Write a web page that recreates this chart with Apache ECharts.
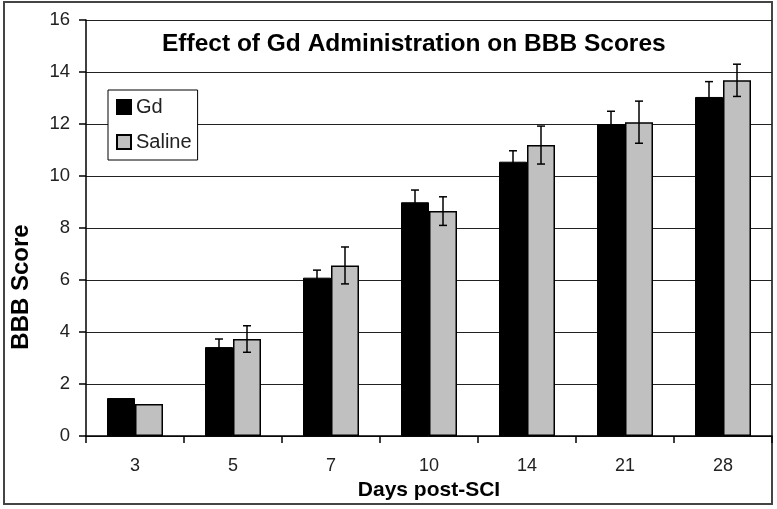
<!DOCTYPE html>
<html>
<head>
<meta charset="utf-8">
<script src="https://cdn.jsdelivr.net/npm/echarts@6/dist/echarts.min.js"></script>
<style>html,body{margin:0;padding:0;background:#fff;}#c{width:777px;height:509px;}</style>
</head>
<body>
<div id="c"></div>
<script>
var days = ['3', '5', '7', '10', '14', '21', '28'];
var gdValues = [1.46, 3.42, 6.09, 8.99, 10.55, 12.0, 13.04];
var gdErrors = [null, 0.31, 0.29, 0.47, 0.42, 0.49, 0.59];
var salineValues = [1.23, 3.73, 6.56, 8.65, 11.19, 12.07, 13.68];
var salineErrors = [null, 0.51, 0.71, 0.55, 0.73, 0.81, 0.62];
var yTicks = [0, 2, 4, 6, 8, 10, 12, 14, 16];

var FONT = "'Liberation Sans', Arial, sans-serif";
var BAR_W = 28;

function errData(vals, errs) {
  var out = [];
  for (var i = 0; i < vals.length; i++) {
    if (errs[i] != null) out.push([i, vals[i], errs[i]]);
  }
  return out;
}
function errRender(offset) {
  return function (params, api) {
    var idx = api.value(0), v = api.value(1), e = api.value(2);
    var top = api.coord([idx, v + e]);
    var bot = api.coord([idx, v - e]);
    var x = top[0] + offset;
    var cap = 4;
    var st = { stroke: '#000', lineWidth: 1.5 };
    return {
      type: 'group',
      children: [
        { type: 'line', shape: { x1: x, y1: top[1], x2: x, y2: bot[1] }, style: st },
        { type: 'line', shape: { x1: x - cap, y1: top[1], x2: x + cap, y2: top[1] }, style: st },
        { type: 'line', shape: { x1: x - cap, y1: bot[1], x2: x + cap, y2: bot[1] }, style: st }
      ]
    };
  };
}

var chart = echarts.init(document.getElementById('c'), null, { renderer: 'canvas' });
chart.setOption({
  backgroundColor: '#fff',
  animation: false,
  textStyle: { fontFamily: FONT },
  title: {
    text: 'Effect of Gd Administration on BBB Scores',
    left: 162, top: 32, padding: 0,
    textStyle: { fontFamily: FONT, fontSize: 24.5, fontWeight: 'bold', color: '#000' }
  },
  legend: {
    data: ['Gd', 'Saline'],
    orient: 'vertical',
    left: 108, top: 90,
    backgroundColor: '#fff',
    borderColor: '#000', borderWidth: 1,
    padding: [6, 6, 7, 8],
    itemWidth: 14, itemHeight: 14, itemGap: 13,
    icon: 'rect',
    textStyle: { fontFamily: FONT, fontSize: 20, color: '#222', lineHeight: 22, padding: [0, 0, 0, 0] }
  },
  grid: { left: 86, right: 5, top: 20, bottom: 73, containLabel: false },
  graphic: [{
    type: 'rect', silent: true, z: -1,
    shape: { x: 4, y: 2, width: 768, height: 502 },
    style: { fill: null, stroke: '#444', lineWidth: 2 }
  }, {
    type: 'text', silent: true,
    x: 21, y: 287, rotation: Math.PI / 2,
    style: {
      text: 'BBB Score', fontFamily: FONT, fontSize: 24, fontWeight: 'bold', fill: '#000',
      align: 'center', verticalAlign: 'middle'
    }
  }],
  xAxis: {
    type: 'category',
    data: days,
    name: 'Days post-SCI',
    nameLocation: 'middle',
    nameGap: 35,
    nameTextStyle: { fontFamily: FONT, fontSize: 21, fontWeight: 'bold', color: '#000' },
    axisLine: { lineStyle: { color: '#000', width: 1.5 } },
    axisTick: { show: true, alignWithLabel: false, length: 7, lineStyle: { color: '#000', width: 1.5 } },
    axisLabel: { fontFamily: FONT, fontSize: 18, color: '#222', margin: 21 },
    splitLine: { show: false }
  },
  yAxis: {
    type: 'value',
    min: yTicks[0], max: yTicks[yTicks.length - 1], interval: 2,
    axisLine: { show: true, lineStyle: { color: '#000', width: 1.5 } },
    axisTick: { show: true, length: 7, lineStyle: { color: '#000', width: 1.5 } },
    axisLabel: { fontFamily: FONT, fontSize: 18.5, color: '#222', margin: 16 },
    splitLine: { show: true, lineStyle: { color: '#222', width: 1.2 } }
  },
  series: [
    {
      name: 'Gd', type: 'bar', data: gdValues,
      barWidth: BAR_W, barGap: '0%',
      itemStyle: { color: '#000', borderColor: '#000', borderWidth: 1 }
    },
    {
      name: 'Saline', type: 'bar', data: salineValues,
      barWidth: BAR_W, barGap: '0%',
      itemStyle: { color: '#c0c0c0', borderColor: '#000', borderWidth: 1.5 }
    },
    {
      name: 'GdErr', type: 'custom', renderItem: errRender(-BAR_W / 2),
      data: errData(gdValues, gdErrors), encode: { x: 0, y: 1 }, z: 5
    },
    {
      name: 'SalineErr', type: 'custom', renderItem: errRender(BAR_W / 2),
      data: errData(salineValues, salineErrors), encode: { x: 0, y: 1 }, z: 5
    }
  ]
});
</script>
</body>
</html>
